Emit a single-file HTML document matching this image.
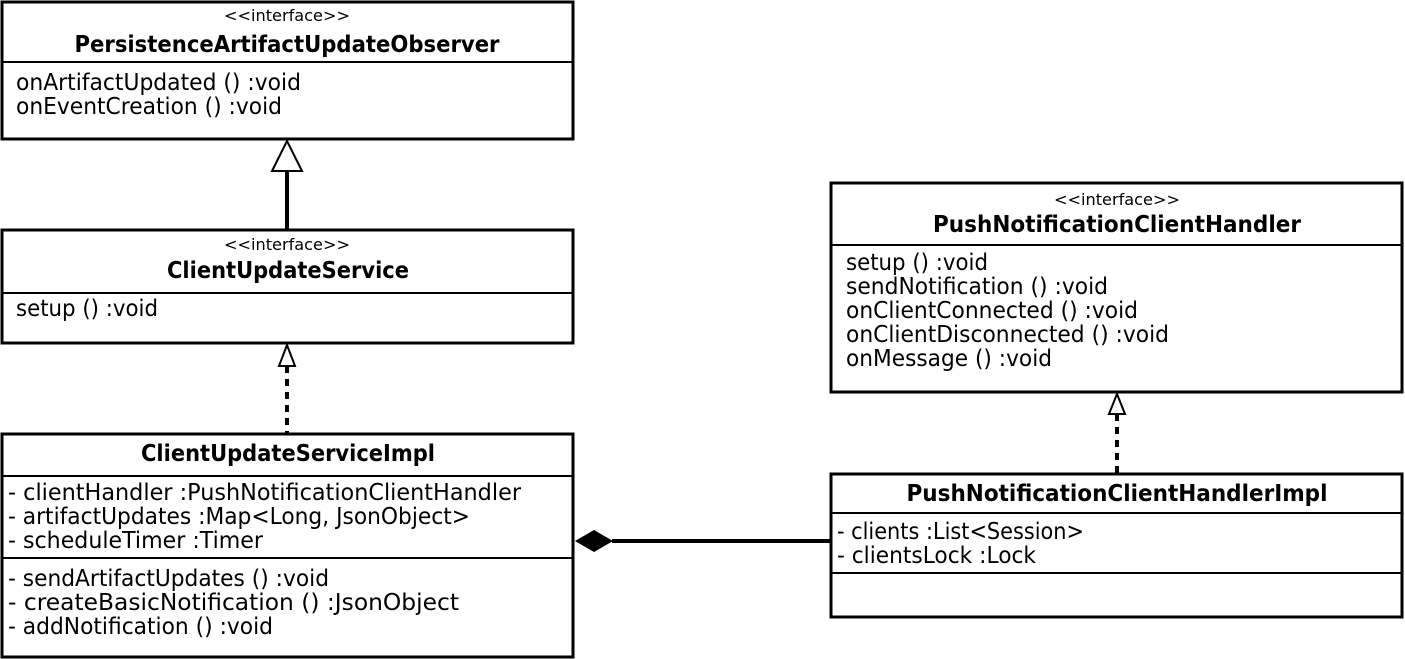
<!DOCTYPE html>
<html><head><meta charset="utf-8"><style>html,body{margin:0;padding:0;background:#fff}svg{display:block}text{font-family:"DejaVu Sans","Liberation Sans",sans-serif;fill:#000}</style></head>
<body>
<svg width="1405" height="659" viewBox="0 0 1405 659" xmlns="http://www.w3.org/2000/svg">
<g fill="#fff" stroke="#000" stroke-width="3">
<rect x="2" y="2" width="571" height="137"/>
<rect x="2" y="230" width="571" height="113"/>
<rect x="2" y="434" width="571" height="223"/>
<rect x="831" y="183" width="571" height="209"/>
<rect x="831" y="474" width="571" height="143"/>
</g>
<g stroke="#000" stroke-width="2">
<line x1="2" y1="62" x2="573" y2="62"/>
<line x1="2" y1="293" x2="573" y2="293"/>
<line x1="2" y1="476" x2="573" y2="476"/>
<line x1="2" y1="558" x2="573" y2="558"/>
<line x1="831" y1="245" x2="1402" y2="245"/>
<line x1="831" y1="513" x2="1402" y2="513"/>
<line x1="831" y1="573" x2="1402" y2="573"/>
</g>
<line x1="287" y1="171" x2="287" y2="230" stroke="#000" stroke-width="4"/>
<polygon points="287,141 272,171 302,171" fill="#fff" stroke="#000" stroke-width="2"/>
<line x1="287" y1="366" x2="287" y2="433" stroke="#000" stroke-width="4" stroke-dasharray="7,6"/>
<polygon points="287,345 279,366 295,366" fill="#fff" stroke="#000" stroke-width="2"/>
<line x1="1117" y1="414" x2="1117" y2="473" stroke="#000" stroke-width="4" stroke-dasharray="7,6"/>
<polygon points="1117,394 1109,414 1125,414" fill="#fff" stroke="#000" stroke-width="2"/>
<line x1="612" y1="541" x2="831" y2="541" stroke="#000" stroke-width="4"/>
<polygon points="575,541 594,530 613,541 594,552" fill="#000"/>
<g font-size="16" text-anchor="middle">
<text x="287" y="21" textLength="126" lengthAdjust="spacingAndGlyphs">&lt;&lt;interface&gt;&gt;</text>
<text x="287" y="250" textLength="126" lengthAdjust="spacingAndGlyphs">&lt;&lt;interface&gt;&gt;</text>
<text x="1117" y="205" textLength="126" lengthAdjust="spacingAndGlyphs">&lt;&lt;interface&gt;&gt;</text>
</g>
<g font-size="23" font-weight="bold" text-anchor="middle">
<text x="287" y="52" textLength="425" lengthAdjust="spacingAndGlyphs">PersistenceArtifactUpdateObserver</text>
<text x="288" y="278" textLength="242" lengthAdjust="spacingAndGlyphs">ClientUpdateService</text>
<text x="288" y="461" textLength="294" lengthAdjust="spacingAndGlyphs">ClientUpdateServiceImpl</text>
<text x="1117" y="232" textLength="368" lengthAdjust="spacingAndGlyphs">PushNotificationClientHandler</text>
<text x="1117" y="501" textLength="421" lengthAdjust="spacingAndGlyphs">PushNotificationClientHandlerImpl</text>
</g>
<g font-size="23">
<text x="16" y="90" textLength="285" lengthAdjust="spacingAndGlyphs">onArtifactUpdated () :void</text>
<text x="16" y="114" textLength="266" lengthAdjust="spacingAndGlyphs">onEventCreation () :void</text>
<text x="16" y="316" textLength="142" lengthAdjust="spacingAndGlyphs">setup () :void</text>
<text x="8" y="500" textLength="513" lengthAdjust="spacingAndGlyphs">- clientHandler :PushNotificationClientHandler</text>
<text x="8" y="524" textLength="462" lengthAdjust="spacingAndGlyphs">- artifactUpdates :Map&lt;Long, JsonObject&gt;</text>
<text x="8" y="548" textLength="255" lengthAdjust="spacingAndGlyphs">- scheduleTimer :Timer</text>
<text x="8" y="586" textLength="321" lengthAdjust="spacingAndGlyphs">- sendArtifactUpdates () :void</text>
<text x="8" y="610" textLength="451" lengthAdjust="spacingAndGlyphs">- createBasicNotification () :JsonObject</text>
<text x="8" y="634" textLength="265" lengthAdjust="spacingAndGlyphs">- addNotification () :void</text>
<text x="846" y="270" textLength="142" lengthAdjust="spacingAndGlyphs">setup () :void</text>
<text x="846" y="294" textLength="262" lengthAdjust="spacingAndGlyphs">sendNotification () :void</text>
<text x="846" y="318" textLength="292" lengthAdjust="spacingAndGlyphs">onClientConnected () :void</text>
<text x="846" y="342" textLength="323" lengthAdjust="spacingAndGlyphs">onClientDisconnected () :void</text>
<text x="846" y="366" textLength="206" lengthAdjust="spacingAndGlyphs">onMessage () :void</text>
<text x="837" y="539" textLength="247" lengthAdjust="spacingAndGlyphs">- clients :List&lt;Session&gt;</text>
<text x="837" y="563" textLength="199" lengthAdjust="spacingAndGlyphs">- clientsLock :Lock</text>
</g>
</svg>
</body></html>
